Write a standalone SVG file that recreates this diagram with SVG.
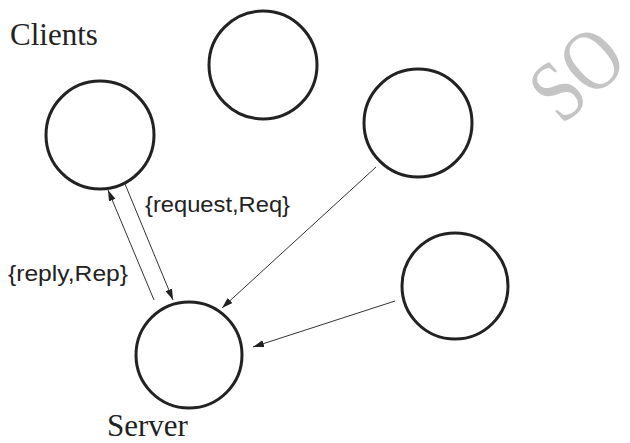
<svg xmlns="http://www.w3.org/2000/svg" width="630" height="443" viewBox="0 0 630 443">
  <defs>
    <style>
      .node { fill: none; stroke: #222; stroke-width: 3; }
      .edge { fill: none; stroke: #333; stroke-width: 1; marker-end: url(#head); }
      .serif { font-family: "Liberation Serif", "Times New Roman", serif; font-size: 31px; fill: #222; }
      .sans { font-family: "Liberation Sans", Arial, sans-serif; font-size: 22px; fill: #222; }
      .mark { font-family: "Liberation Serif", "Times New Roman", serif; font-size: 72px; fill: #c4c4c4; }
    </style>
    <marker id="head" markerUnits="userSpaceOnUse" markerWidth="12" markerHeight="8" refX="11" refY="3.5" orient="auto">
      <path d="M0,0 L11,3.5 L0,7 Z" fill="#222"/>
    </marker>
  </defs>

  <rect width="630" height="443" fill="#fff"/>

  <!-- faint stamp in the upper-right corner -->
  <text class="mark" transform="translate(562,126) rotate(-42) scale(1,1.22)">SO</text>

  <!-- client processes -->
  <g id="client-a"><circle class="node" cx="100" cy="135" r="54"/></g>
  <g id="client-b"><circle class="node" cx="263" cy="65" r="54"/></g>
  <g id="client-c"><circle class="node" cx="418" cy="123" r="54"/></g>
  <g id="client-d"><circle class="node" cx="455" cy="286" r="53"/></g>

  <!-- server process -->
  <g id="server"><circle class="node" cx="189" cy="355" r="53"/></g>

  <!-- messages -->
  <g id="connectors">
    <line class="edge" x1="125" y1="184" x2="173" y2="300"/>
    <line class="edge" x1="154" y1="300" x2="108" y2="190"/>
    <line class="edge" x1="376" y1="167" x2="222" y2="308"/>
    <line class="edge" x1="395" y1="301" x2="253" y2="347"/>
  </g>

  <!-- labels -->
  <g id="labels">
    <text class="serif" x="10" y="45">Clients</text>
    <text class="serif" x="107" y="436">Server</text>
    <text class="sans" x="145" y="212" textLength="145" lengthAdjust="spacingAndGlyphs">{request,Req}</text>
    <text class="sans" x="8" y="281" textLength="120" lengthAdjust="spacingAndGlyphs">{reply,Rep}</text>
  </g>
</svg>
